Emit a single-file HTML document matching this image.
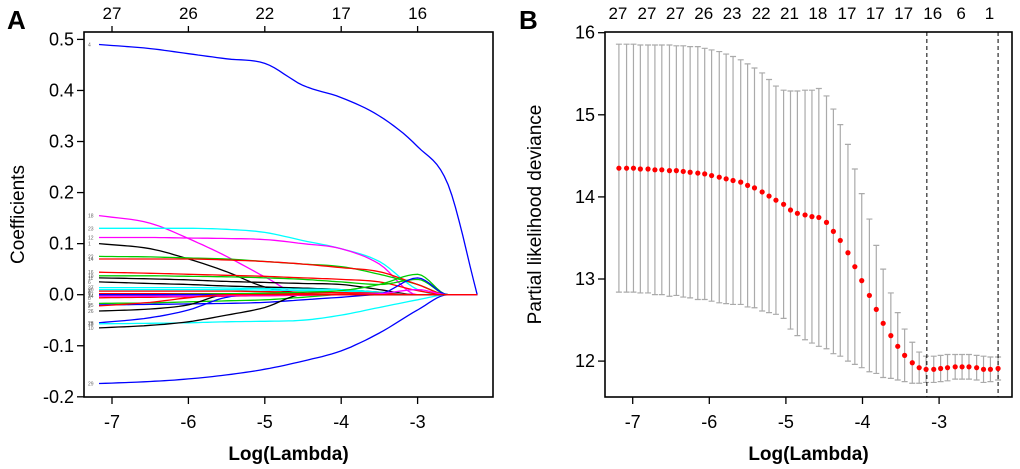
<!DOCTYPE html>
<html><head><meta charset="utf-8"><style>
body{margin:0;background:#fff;}
svg{display:block;font-family:"Liberation Sans",Arial,sans-serif;}
</style></head><body>
<svg id="fig" width="1020" height="469" viewBox="0 0 1020 469">
<g id="pa"></g>
<g id="pb"></g>
</svg>
<script>
// ---------- Panel A data ----------
const knotsA = [-7.17,-6.5,-6,-5.5,-5,-4.5,-4,-3.5,-3,-2.6,-2.22];
const pathColors = ["#0000ff","#0000ff","#ff00ff","#00ffff","#ff00ff","#000000","#00cc00","#ff0000","#ff0000","#00cc00","#000000","#000000","#00ffff","#00ffff","#ff0000","#ff0000","#ff0000","#00cc00","#0000ff","#000000","#0000ff","#00ffff","#000000","#00cc00","#0000ff","#ff00ff","#ff0000"];
const pathValues = [
 [0.49,0.482,0.472,0.462,0.453,0.41,0.386,0.35,0.29,0.215,0],
 [-0.174,-0.17,-0.165,-0.157,-0.146,-0.13,-0.11,-0.075,-0.03,0,0],
 [0.155,0.14,0.11,0.075,0.035,0,0,0,0,0,0],
 [0.13,0.13,0.13,0.128,0.122,0.106,0.09,0.065,0.01,0,0],
 [0.112,0.112,0.111,0.11,0.108,0.1,0.09,0.06,0,0,0],
 [0.1,0.09,0.07,0.045,0.015,0.003,0,0,0,0,0],
 [0.075,0.074,0.072,0.07,0.065,0.06,0.055,0.04,0.02,0,0],
 [0.07,0.07,0.07,0.068,0.065,0.06,0.053,0.045,0.02,0,0],
 [0.044,0.042,0.04,0.038,0.036,0.033,0.03,0.025,0.008,0,0],
 [0.037,0.037,0.036,0.035,0.033,0.03,0.025,0.02,0.03,0,0],
 [0.033,0.031,0.029,0.026,0.024,0.022,0.02,0.01,0,0,0],
 [0.025,0.022,0.02,0.017,0.015,0.013,0.01,0.005,0,0,0],
 [0.014,0.014,0.014,0.013,0.012,0.011,0.01,0.005,0,0,0],
 [0.01,0.01,0.01,0.01,0.009,0.008,0.007,0.004,0,0,0],
 [0.007,0.007,0.007,0.007,0.006,0.005,0.004,0.003,0,0,0],
 [0.002,0.002,0.002,0.002,0.002,0.002,0.001,0.001,0,0,0],
 [-0.006,-0.005,-0.004,-0.003,-0.002,-0.001,0,0,0,0,0],
 [-0.017,-0.016,-0.014,-0.012,-0.01,-0.005,0,0,0,0,0],
 [-0.02,-0.019,-0.018,-0.017,-0.015,-0.01,-0.005,0,0,0,0],
 [-0.032,-0.028,-0.02,0,0,0,0,0,0,0,0],
 [-0.055,-0.045,-0.03,-0.005,0,0,0,0,0,0,0],
 [-0.057,-0.056,-0.055,-0.053,-0.052,-0.05,-0.04,-0.025,-0.01,0,0],
 [-0.065,-0.06,-0.053,-0.04,-0.025,0,0,0,0,0,0],
 [0.0,0.0,0.001,0.002,0.003,0.005,0.008,0.02,0.04,0,0],
 [0,0,0,0,0,0,0,0.002,0.033,0,0],
 [-0.003,-0.003,-0.003,-0.002,-0.002,-0.001,0,0.002,0.01,0,0],
 [-0.022,-0.015,-0.006,0,0,0,0,0,0,0,0]
];
const pathLabels = ["4","29","18","23","12","1","22","14","16","19","11","6","27","20","3","9","8","5","25","26","28","13","10","17","7","24","2"];
const yTicksA = [0.5,0.4,0.3,0.2,0.1,0.0,-0.1,-0.2];
const xTicks = [-7,-6,-5,-4,-3];
const topLabelsA = ["27","26","22","17","16"];

// ---------- Panel B data ----------
const logLambda = [-7.18,-7.08,-6.99,-6.90,-6.80,-6.71,-6.62,-6.52,-6.43,-6.34,-6.25,-6.15,-6.06,-5.97,-5.87,-5.78,-5.69,-5.59,-5.50,-5.41,-5.31,-5.22,-5.13,-5.03,-4.94,-4.85,-4.75,-4.66,-4.57,-4.47,-4.38,-4.29,-4.19,-4.10,-4.01,-3.91,-3.82,-3.73,-3.63,-3.54,-3.45,-3.35,-3.26,-3.17,-3.07,-2.98,-2.89,-2.79,-2.70,-2.61,-2.51,-2.42,-2.33,-2.23];
const cvMean = [14.35,14.35,14.35,14.34,14.34,14.33,14.33,14.32,14.32,14.31,14.30,14.29,14.28,14.26,14.24,14.22,14.20,14.18,14.14,14.11,14.06,14.01,13.96,13.91,13.84,13.80,13.78,13.76,13.75,13.69,13.58,13.47,13.32,13.15,12.98,12.80,12.63,12.46,12.31,12.18,12.07,11.98,11.92,11.90,11.90,11.91,11.92,11.93,11.93,11.93,11.92,11.90,11.90,11.91];
const cvUpper = [15.86,15.86,15.86,15.85,15.85,15.85,15.85,15.85,15.84,15.84,15.83,15.83,15.81,15.79,15.77,15.74,15.71,15.67,15.62,15.57,15.51,15.43,15.35,15.30,15.29,15.29,15.30,15.30,15.32,15.23,15.07,14.88,14.64,14.34,14.04,13.73,13.41,13.12,12.83,12.59,12.39,12.23,12.11,12.06,12.06,12.07,12.08,12.08,12.08,12.08,12.07,12.06,12.05,12.05];
const cvLower = [12.84,12.84,12.84,12.83,12.83,12.81,12.81,12.79,12.80,12.78,12.77,12.75,12.75,12.73,12.71,12.70,12.69,12.69,12.66,12.65,12.61,12.59,12.57,12.52,12.39,12.31,12.26,12.22,12.18,12.15,12.09,12.06,12.00,11.96,11.92,11.87,11.85,11.80,11.79,11.77,11.75,11.73,11.73,11.74,11.74,11.75,11.76,11.78,11.78,11.78,11.77,11.74,11.75,11.77];
const nonzero = ["27","27","27","26","23","22","21","18","17","17","17","16","6","1"];
const lambdaMin = -3.16, lambda1se = -2.23;
const yTicksB = [16,15,14,13,12];

const NS="http://www.w3.org/2000/svg";
function mk(parent, tag, attrs, text){
  const e=document.createElementNS(NS,tag);
  for(const k in attrs) e.setAttribute(k,attrs[k]);
  if(text!==undefined) e.textContent=text;
  parent.appendChild(e); return e;
}
// monotone cubic interpolation (Fritsch-Carlson)
function monotonePts(xs, ys, n){
  const m=xs.length, d=[], t=new Array(m).fill(0);
  for(let i=0;i<m-1;i++) d.push((ys[i+1]-ys[i])/(xs[i+1]-xs[i]));
  t[0]=d[0]; t[m-1]=d[m-2];
  for(let i=1;i<m-1;i++){ t[i]=(d[i-1]*d[i]<=0)?0:(d[i-1]+d[i])/2; }
  for(let i=0;i<m-1;i++){
    if(d[i]===0){t[i]=0;t[i+1]=0;continue;}
    const a=t[i]/d[i], b=t[i+1]/d[i], s=a*a+b*b;
    if(s>9){const k=3/Math.sqrt(s); t[i]=k*a*d[i]; t[i+1]=k*b*d[i];}
  }
  const out=[];
  for(let i=0;i<m-1;i++){
    const h=xs[i+1]-xs[i];
    for(let j=0;j<n;j++){
      const u=j/n, h00=2*u*u*u-3*u*u+1, h10=u*u*u-2*u*u+u, h01=-2*u*u*u+3*u*u, h11=u*u*u-u*u;
      out.push([xs[i]+u*h, h00*ys[i]+h10*h*t[i]+h01*ys[i+1]+h11*h*t[i+1]]);
    }
  }
  out.push([xs[m-1],ys[m-1]]);
  return out;
}
function axesCommon(g, box, xs, ys, yTicks, yFmt, topPos, topLabs, yTitle, ytx){
  const r=mk(g,'rect',{x:box.l,y:box.t,width:box.r-box.l,height:box.b-box.t,fill:'none',stroke:'#000','stroke-width':1.6});
   
  xTicks.forEach(v=>{
    const x=xs(v);
    mk(g,'line',{x1:x,y1:box.b,x2:x,y2:box.b+7,stroke:'#000','stroke-width':1.3});
    const t=mk(g,'text',{x:x,y:428,'font-size':18,'text-anchor':'middle'},String(v));
     
  });
  yTicks.forEach(v=>{
    const y=ys(v);
    mk(g,'line',{x1:box.l-7,y1:y,x2:box.l,y2:y,stroke:'#000','stroke-width':1.3});
    const t=mk(g,'text',{x:box.l-10,y:y+6,'font-size':18,'text-anchor':'end'},yFmt(v));
     
  });
  topPos.forEach((x,i)=>{
    mk(g,'line',{x1:x,y1:box.t,x2:x,y2:box.t-6,stroke:'#000','stroke-width':1.3});
    const t=mk(g,'text',{x:x,y:19,'font-size':17,'text-anchor':'middle'},topLabs[i]);
     
  });
  const xt=mk(g,'text',{x:(box.l+box.r)/2,y:460,'font-size':19,'font-weight':'bold','text-anchor':'middle'},'Log(Lambda)');
   
  const yt=mk(g,'text',{x:0,y:0,'font-size':19,'text-anchor':'middle',transform:`translate(${ytx},${(box.t+box.b)/2}) rotate(-90)`},yTitle);
   
}

// ---------- Panel A ----------
(function(){
  const g=document.getElementById('pa');
  const box={l:84,r:493,t:32,b:397};
  const xs=v=>112+(v+7)*76.4;
  const ys=v=>294.7-v*510.6;
  const clip=mk(g,'clipPath',{id:'clipA'}); mk(clip,'rect',{x:box.l,y:box.t,width:box.r-box.l,height:box.b-box.t});
  const lines=mk(g,'g',{'clip-path':'url(#clipA)'});
  pathValues.forEach((vals,i)=>{
    const pts=monotonePts(knotsA,vals,8).map(p=>xs(p[0]).toFixed(1)+','+ys(p[1]).toFixed(1)).join(' ');
    const p=mk(lines,'polyline',{points:pts,fill:'none',stroke:pathColors[i],'stroke-width':1.3});
    
    
    const t=mk(g,'text',{x:88,y:ys(vals[0])+2,'font-size':5,fill:'#666'},pathLabels[i]);
    
    
  });
  axesCommon(g,box,xs,ys,yTicksA,v=>v.toFixed(1),xTicks.map(xs),topLabelsA,'Coefficients',24);
  const L=mk(g,'text',{x:7,y:29,'font-size':26,'font-weight':'bold'},'A');
   
})();

// ---------- Panel B ----------
(function(){
  const g=document.getElementById('pb');
  const box={l:605,r:1012,t:32,b:397};
  const xs=v=>632.7+(v+7)*76.6;
  const ys=v=>32.7+(16-v)*82.1;
  const bars=mk(g,'g',{});
  logLambda.forEach((lx,i)=>{
    const x=xs(lx), yu=ys(cvUpper[i]), yl=ys(cvLower[i]);
    const e=mk(bars,'path',{d:`M${x},${yu}V${yl}M${x-3},${yu}H${x+3}M${x-3},${yl}H${x+3}`,stroke:'#aaaaaa','stroke-width':1.2,fill:'none'});
    
    
  });
  [lambdaMin,lambda1se].forEach(v=>{
    const l=mk(g,'line',{x1:xs(v),y1:box.t,x2:xs(v),y2:box.b,stroke:'#000','stroke-width':1,'stroke-dasharray':'4,3'});
    
    
  });
  logLambda.forEach((lx,i)=>{
    const c=mk(g,'circle',{cx:xs(lx),cy:ys(cvMean[i]),r:2.6,fill:'#ff0000'});
    
    
  });
  const topPos=nonzero.map((_,k)=>xs(logLambda[k*4])-1);
  axesCommon(g,box,xs,ys,yTicksB,v=>String(v),[],[], 'Partial likelihood deviance',541);
  nonzero.forEach((s,k)=>{
    const t=mk(g,'text',{x:topPos[k],y:19,'font-size':17,'text-anchor':'middle'},s);
    
    
  });
  const L=mk(g,'text',{x:519,y:29,'font-size':26,'font-weight':'bold'},'B');
   
})();
</script>
</body></html>
